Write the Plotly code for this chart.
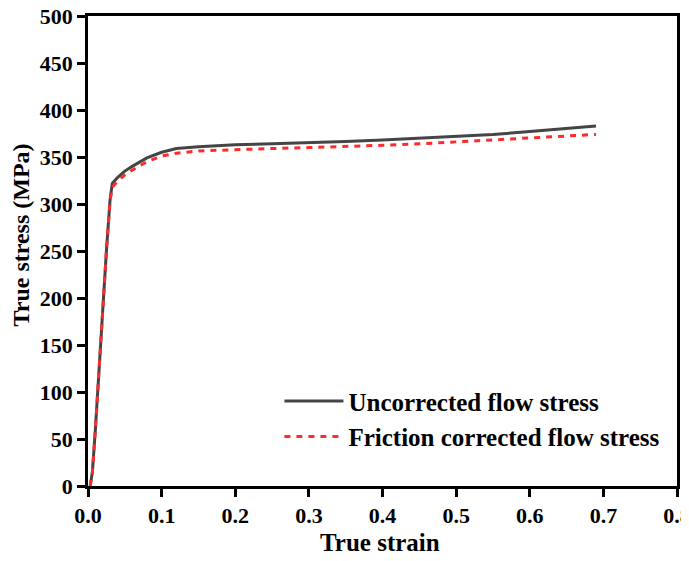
import plotly.graph_objects as go

strain = [0.003, 0.006, 0.01, 0.015, 0.02, 0.025, 0.03, 0.033, 0.04, 0.05, 0.06, 0.08,
          0.10, 0.12, 0.15, 0.20, 0.25, 0.30, 0.35, 0.40, 0.45, 0.50, 0.55, 0.60, 0.65, 0.69]
uncorrected = [0, 15, 60, 125, 185, 250, 305, 322, 328, 335, 340, 349,
               355, 359, 361, 363, 364, 365, 366.5, 368, 370, 372, 374, 377, 380, 383]
corrected = [0, 15, 60, 125, 185, 250, 303, 318, 324, 331, 336, 345,
             351, 354, 356.5, 358, 359, 360, 361, 362.5, 364, 366, 368, 370, 372, 374]

x_ticks = [0.0, 0.1, 0.2, 0.3, 0.4, 0.5, 0.6, 0.7, 0.8]
x_tick_labels = ["0.0", "0.1", "0.2", "0.3", "0.4", "0.5", "0.6", "0.7", "0.8"]
y_ticks = [0, 50, 100, 150, 200, 250, 300, 350, 400, 450, 500]

FONT = "Liberation Serif, Times New Roman, serif"

fig = go.Figure()
fig.add_trace(go.Scatter(x=strain, y=uncorrected, mode="lines",
                         name="<b>Uncorrected flow stress</b>",
                         line=dict(color="#454545", width=3)))
fig.add_trace(go.Scatter(x=strain, y=corrected, mode="lines",
                         name="<b>Friction corrected flow stress</b>",
                         line=dict(color="#ff2a2a", width=3, dash="6px,6px")))

axis_common = dict(showline=True, linecolor="black", linewidth=2.5, mirror=True,
                   ticks="outside", ticklen=8, tickwidth=2.5, tickcolor="black",
                   showgrid=False, zeroline=False, automargin=False,
                   ticklabeloverflow="allow",
                   tickfont=dict(family=FONT, size=22, color="black"))

fig.update_xaxes(range=[0, 0.8], tickvals=x_ticks, ticktext=[f"<b>{t}</b>" for t in x_tick_labels],
                 **axis_common)
fig.update_yaxes(range=[0, 500], tickvals=y_ticks, ticktext=[f"<b>{t}</b>" for t in y_ticks],
                 **axis_common)

fig.add_annotation(text="<b>True stress (MPa)</b>", textangle=-90,
                   xref="paper", yref="paper", x=-0.113, y=0.534,
                   xanchor="center", yanchor="middle", showarrow=False,
                   font=dict(family=FONT, size=24, color="black"))
fig.add_annotation(text="<b>True strain</b>",
                   xref="paper", yref="paper", x=0.496, y=-0.121,
                   xanchor="center", yanchor="middle", showarrow=False,
                   font=dict(family=FONT, size=25, color="black"))

fig.update_layout(
    width=681, height=553,
    margin=dict(l=80, r=12, t=8, b=75),
    paper_bgcolor="white", plot_bgcolor="white",
    font=dict(family=FONT, color="black"),
    legend=dict(x=0.325, y=0.229, xanchor="left", yanchor="top",
                bgcolor="rgba(0,0,0,0)", font=dict(family=FONT, size=25, color="black"),
                itemwidth=59, tracegroupgap=0),
    showlegend=True,
)

fig.write_html("out.html")
